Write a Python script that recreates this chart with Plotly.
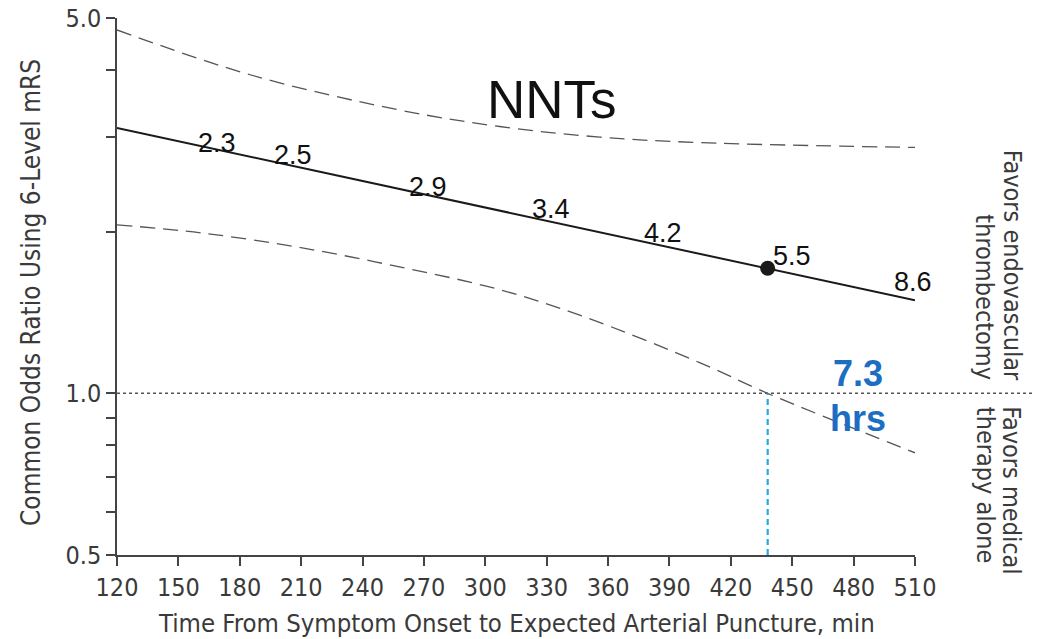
import math
import plotly.graph_objects as go

# ---- data ----
time_main = [120, 510]
or_main = [3.12, 1.49]

time_upper = [120, 185, 258, 307, 356, 405, 510]
or_upper = [4.75, 3.92, 3.37, 3.14, 3.00, 2.93, 2.87]

time_lower = [120, 161, 209, 258, 307, 348, 405, 438, 510]
or_lower = [2.06, 1.99, 1.87, 1.72, 1.56, 1.39, 1.14, 1.00, 0.775]

point_time = [438]
point_or = [1.71]

nnt_labels = ["2.3", "2.5", "2.9", "3.4", "4.2", "5.5", "8.6"]
nnt_time = [169, 206, 272, 332, 387, 450, 509]
nnt_or = [2.93, 2.78, 2.42, 2.20, 1.99, 1.80, 1.61]

x_ticks = list(range(120, 511, 30))
y_tickvals = [0.5, 0.6, 0.7, 0.8, 0.9, 1.0, 2.0, 3.0, 4.0, 5.0]
y_ticktext = ["0.5", "", "", "", "", "1.0", "", "", "", "5.0"]

cross_time = 438

AXFONT = "DejaVu Sans Condensed, Liberation Sans Narrow, Open Sans, sans-serif"
AXCOL = "#3a3a3a"
ARIAL = "Liberation Sans, Arial, sans-serif"

W, H = 1037, 639
L, R, T, B = 117, 122, 18, 84
PW = W - L - R
PH = H - T - B


def px_x(px):
    return (px - L) / PW


def px_y(py):
    return (H - B - py) / PH


fig = go.Figure()

fig.add_trace(go.Scatter(x=time_upper, y=or_upper, mode="lines", line_shape="spline",
                         line=dict(color="#555555", width=1.3, dash="15px,8px"),
                         hoverinfo="skip", showlegend=False))
fig.add_trace(go.Scatter(x=time_lower, y=or_lower, mode="lines", line_shape="spline",
                         line=dict(color="#555555", width=1.3, dash="15px,8px"),
                         hoverinfo="skip", showlegend=False))
fig.add_trace(go.Scatter(x=time_main, y=or_main, mode="lines",
                         line=dict(color="#1a1a1a", width=2),
                         showlegend=False))
fig.add_trace(go.Scatter(x=point_time, y=point_or, mode="markers",
                         marker=dict(color="#1a1a1a", size=15),
                         showlegend=False))

# reference line at OR = 1.0 extending under the side labels
fig.add_shape(type="line", xref="paper", yref="y", x0=0, x1=px_x(1032), y0=1.0, y1=1.0,
              line=dict(color="#555555", width=1.5, dash="dot"), layer="below")
# vertical blue dashed line at crossing time
fig.add_shape(type="line", xref="x", yref="y", x0=cross_time, x1=cross_time, y0=0.5, y1=1.0,
              line=dict(color="#29a9e1", width=2.2, dash="6px,4px"))

annotations = []
for lab, t, v in zip(nnt_labels, nnt_time, nnt_or):
    annotations.append(dict(x=t, y=math.log10(v), xref="x", yref="y", text=lab,
                            xanchor="center", yanchor="middle",
                            showarrow=False, font=dict(family=ARIAL, size=27, color="#111111")))

annotations.append(dict(x=px_x(552), y=px_y(99), xref="paper", yref="paper",
                        xanchor="center", yanchor="middle",
                        text="NNTs", showarrow=False,
                        font=dict(family=ARIAL, size=53, color="#111111")))
for txt, py in [("7.3", 373), ("hrs", 418)]:
    annotations.append(dict(x=px_x(858), y=px_y(py), xref="paper", yref="paper",
                            xanchor="center", yanchor="middle",
                            text=txt, showarrow=False,
                            font=dict(family=ARIAL, size=36, color="#1b6ec2", weight="bold")))

side = [("Favors endovascular", 1012, "bottom"), ("thrombectomy", 985, "bottom"),
        ("Favors medical", 1012, "top"), ("therapy alone", 985, "top")]
for txt, px, anc in side:
    annotations.append(dict(x=px_x(px), y=0, xref="paper", yref="y",
                            xanchor="center", yanchor=anc,
                            yshift=11 if anc == "bottom" else -11,
                            text=txt, textangle=90, showarrow=False,
                            font=dict(family=AXFONT, size=25, color=AXCOL)))

# y-axis title as a rotated annotation
annotations.append(dict(x=px_x(31), y=px_y(293), xref="paper", yref="paper",
                        xanchor="center", yanchor="middle", textangle=-90,
                        text="Common Odds Ratio Using 6-Level mRS", showarrow=False,
                        font=dict(family=AXFONT, size=26, color=AXCOL)))
# x-axis title
annotations.append(dict(x=px_x(516), y=px_y(623), xref="paper", yref="paper",
                        xanchor="center", yanchor="middle",
                        text="Time From Symptom Onset to Expected Arterial Puncture, min",
                        showarrow=False, font=dict(family=AXFONT, size=25.5, color=AXCOL)))

fig.update_layout(
    width=W, height=H,
    margin=dict(l=L, r=R, t=T, b=B),
    paper_bgcolor="white", plot_bgcolor="white",
    annotations=annotations,
    xaxis=dict(range=[120, 510], tickvals=x_ticks, ticks="outside", ticklen=9, tickwidth=1.5,
               tickcolor="#444", showline=True, linecolor="#444", linewidth=1.5,
               showgrid=False, zeroline=False, automargin=False,
               tickfont=dict(family=AXFONT, size=25, color=AXCOL)),
    yaxis=dict(type="log", range=[math.log10(0.5), math.log10(5.0)], tickvals=y_tickvals,
               ticktext=y_ticktext, ticks="outside", ticklen=9, tickwidth=1.5, tickcolor="#444",
               showline=True, linecolor="#444", linewidth=1.5, showgrid=False, zeroline=False,
               automargin=False,
               tickfont=dict(family=AXFONT, size=25, color=AXCOL)),
)

fig.write_html("out.html", config={"displayModeBar": False},
               post_script="document.body.style.margin='0px';")
